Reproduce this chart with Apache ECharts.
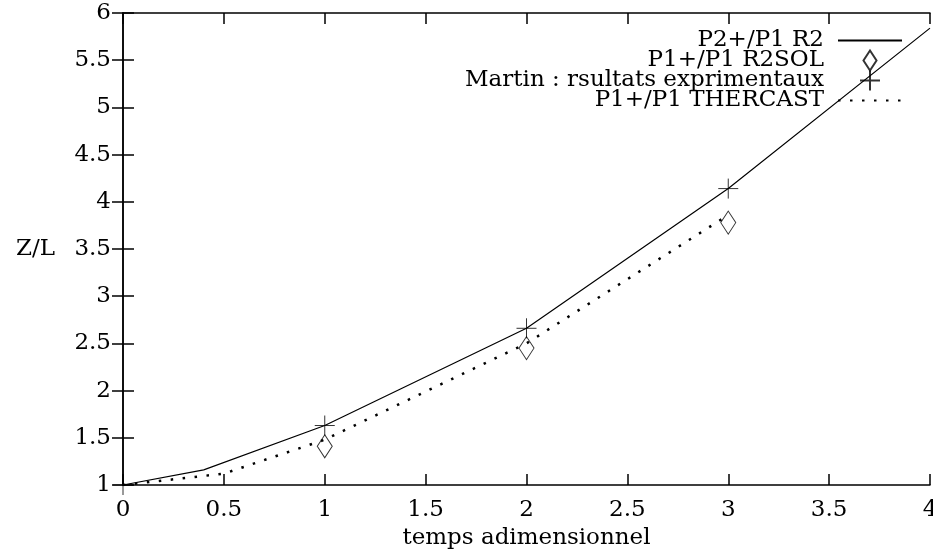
<!DOCTYPE html>
<html>
<head>
<meta charset="utf-8">
<script src="https://cdn.jsdelivr.net/npm/echarts@6/dist/echarts.min.js"></script>
<style>
  html, body { margin: 0; padding: 0; background: #fff; }
  #chart { width: 933px; height: 554px; }
</style>
</head>
<body>
<div id="chart"></div>
<script>
// data
const r2X = [0, 0.4, 1, 2, 3, 4];
const r2Y = [1, 1.16, 1.63, 2.66, 4.14, 5.84];

const r2solX = [0, 1, 2, 3];
const r2solY = [0.99, 1.41, 2.45, 3.78];

const martinX = [0, 1, 2, 3];
const martinY = [1, 1.63, 2.66, 4.14];

const thercastX = [0, 0.5, 1, 2, 3];
const thercastY = [1, 1.12, 1.48, 2.5, 3.86];

const seriesNames = [
  "P2+/P1 R2",
  "P1+/P1 R2SOL",
  "Martin : rsultats exprimentaux",
  "P1+/P1 THERCAST",
];

const pairs = (xs, ys) => xs.map((x, i) => [x, ys[i]]);

const FONT = "DejaVu Serif";
const FS = 23;
const crossPath = "path://M0,10L20,10M10,0L10,20";
const diamondPath = "path://M7.5,0L15,11.5L7.5,23L0,11.5Z";
const hidden = "rgba(0,0,0,0)";

const chart = echarts.init(document.getElementById("chart"));

const tickStyle = { show: true, inside: true, length: 11, lineStyle: { color: "#000", width: 1.5 } };
const txt = { fontFamily: FONT, fontSize: FS, color: "#000" };

chart.setOption({
  animation: false,
  textStyle: { fontFamily: FONT, color: "#000" },
  grid: { left: 123, top: 13, right: 3, bottom: 69, containLabel: false, outerBoundsMode: "none" },
  legend: {
    orient: "vertical",
    align: "right",
    right: 25,
    top: 24,
    itemWidth: 64,
    itemHeight: 20,
    itemGap: -3,
    textStyle: Object.assign({ padding: [0, 9, 0, 0] }, txt),
    data: seriesNames,
  },
  xAxis: [
    {
      type: "value",
      min: 0,
      max: 4,
      interval: 0.5,
      name: "temps adimensionnel",
      nameLocation: "middle",
      nameGap: 42,
      nameTextStyle: txt,
      axisLine: { lineStyle: { color: "#000", width: 1.5 } },
      axisTick: tickStyle,
      axisLabel: Object.assign({ margin: 14 }, txt),
      splitLine: { show: false },
    },
    {
      type: "value",
      position: "top",
      min: 0,
      max: 4,
      interval: 0.5,
      axisLine: { show: true, lineStyle: { color: "#000", width: 1.5 } },
      axisTick: tickStyle,
      axisLabel: { show: false },
      splitLine: { show: false },
    },
  ],
  yAxis: [
    {
      type: "value",
      min: 1,
      max: 6,
      interval: 0.5,
      name: "Z/L",
      nameLocation: "middle",
      nameRotate: 0,
      nameGap: 68,
      nameTextStyle: txt,
      axisLine: { show: true, lineStyle: { color: "#000", width: 1.5 } },
      axisTick: tickStyle,
      axisLabel: Object.assign({ margin: 12 }, txt),
      splitLine: { show: false },
    },
    {
      type: "value",
      position: "right",
      min: 1,
      max: 6,
      interval: 0.5,
      axisLine: { show: true, lineStyle: { color: "#000", width: 1.5 } },
      axisTick: tickStyle,
      axisLabel: { show: false },
      splitLine: { show: false },
    },
  ],
  series: [
    {
      name: seriesNames[0],
      type: "line",
      data: pairs(r2X, r2Y),
      symbol: "none",
      lineStyle: { color: "#000", width: 1.2 },
      itemStyle: { color: hidden, borderWidth: 0 },
    },
    {
      name: seriesNames[1],
      type: "scatter",
      data: pairs(r2solX, r2solY),
      symbol: diamondPath,
      symbolSize: [15, 23],
      itemStyle: { color: hidden, borderColor: "#000", borderWidth: 1 },
    },
    {
      name: seriesNames[2],
      type: "scatter",
      data: pairs(martinX, martinY),
      symbol: crossPath,
      symbolSize: 20,
      itemStyle: { color: hidden, borderColor: "#000", borderWidth: 1 },
    },
    {
      name: seriesNames[3],
      type: "line",
      data: pairs(thercastX, thercastY),
      symbol: "none",
      lineStyle: { color: "#000", width: 2.5, type: [2.5, 9.5] },
      itemStyle: { color: hidden, borderWidth: 0 },
    },
  ],
});
</script>
</body>
</html>
